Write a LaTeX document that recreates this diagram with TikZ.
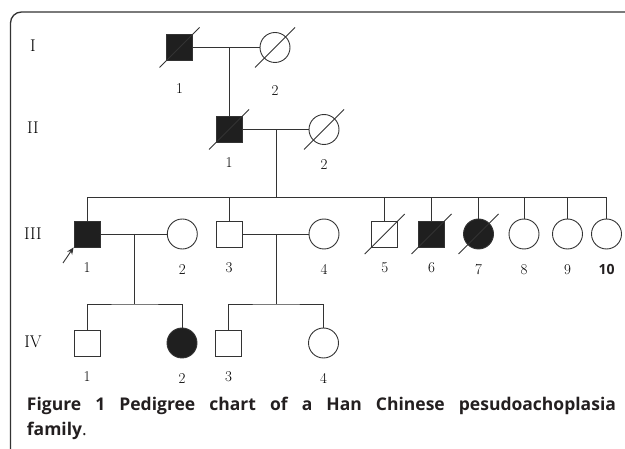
\documentclass[tikz,border=0pt]{standalone}
\usepackage{fontspec}
\newfontfamily\capfont{Open Sans}
\definecolor{ink}{HTML}{231F20}
\usetikzlibrary{positioning, calc, arrows.meta}

\begin{document}
\begin{tikzpicture}[x=1pt, y=1pt, on grid, line width=0.9pt, draw=black!80,
  male/.style={draw, rectangle, minimum size=26pt, inner sep=0pt},
  female/.style={draw, circle, minimum size=30pt, inner sep=0pt},
  ill/.style={fill=black!88},
  lbl/.style={label={[anchor=center, label distance=20pt]below:#1}},
  every label/.style={font=\fontsize{15}{15}\selectfont},
  gen/.style={font=\fontsize{17}{17}\selectfont}]
  \useasboundingbox (0,0) rectangle (625,-449);
  \draw[line width=1.3pt, rounded corners=11pt] (10.5,-449) -- (10.5,-12) -- (625,-12);

  \node[gen] (g1) at (33,-46) {I};
  \node[gen] (g2) at (33,-128) {II};
  \node[gen] (g3) at (33,-234) {III};
  \node[gen] (g4) at (33,-342) {IV};

  % generation I and II
  \node[male, ill, label={[anchor=center, label distance=28pt]below:1}] (i1) at (179.5,-47.5) {};
  \node[female, label={[anchor=center, label distance=28pt]below:2}] (i2) [right=95.5pt of i1] {};
  \node[male, ill, lbl=1] (ii1) [below right=82pt and 49.5pt of i1] {};
  \node[female, lbl=2] (ii2) [right=95pt of ii1] {};

  % generation III
  \node[male, ill, lbl=1] (iii1) [below left=104.5pt and 142pt of ii1] {};
  \node[female, lbl=2] (iii2) [right=95.3pt of iii1] {};
  \node[male, lbl=3] (iii3) [right=46.7pt of iii2] {};
  \node[female, lbl=4] (iii4) [right=95pt of iii3] {};
  \node[male, lbl=5] (iii5) [right=60.7pt of iii4] {};
  \node[male, ill, lbl=6] (iii6) [right=46.8pt of iii5] {};
  \node[female, ill, lbl=7] (iii7) [right=47pt of iii6] {};
  \node[female, lbl=8] (iii8) [right=45.5pt of iii7] {};
  \node[female, lbl=9] (iii9) [right=43.5pt of iii8] {};
  \node[female, label={[anchor=center, label distance=20pt,
    font=\capfont\bfseries\fontsize{14}{14}\selectfont, text=ink]below:10}] (iii10) [right=39pt of iii9] {};

  % generation IV
  \node[male, lbl=1] (iv1) [below=109pt of iii1] {};
  \node[female, ill, lbl=2] (iv2) [right=95pt of iv1] {};
  \node[male, lbl=3] (iv3) [right=46.5pt of iv2] {};
  \node[female, lbl=4] (iv4) [right=95pt of iv3] {};

  % couples and children
  \draw (i1) -- (i2);
  \draw (ii1) -- (ii1 |- i1);
  \draw (ii1) -- (ii2);
  \coordinate (m2) at ($(ii1)!.5!(ii2)$);
  \coordinate[below=68pt of m2] (s2);
  \draw (m2) -- (s2);
  \draw (iii1) |- (s2) -| (iii10);
  \foreach \c in {iii3,iii5,iii6,iii7,iii8,iii9}
    \draw (\c) -- (\c |- s2);

  \draw (iii1) -- (iii2);
  \coordinate (m3) at ($(iii1)!.5!(iii2)$);
  \coordinate[below=70pt of m3] (s3);
  \draw (m3) -- (s3);
  \draw (iv1) |- (s3) -| (iv2);

  \draw (iii3) -- (iii4);
  \coordinate (m4) at ($(iii3)!.5!(iii4)$);
  \coordinate[below=70pt of m4] (s4);
  \draw (m4) -- (s4);
  \draw (iv3) |- (s4) -| (iv4);

  % deceased
  \foreach \d in {i1,i2,ii1,ii2,iii5,iii6,iii7}
    \draw ([shift={(-20,-20)}]\d.center) -- ([shift={(20,20)}]\d.center);

  % proband
  \coordinate[below left=29pt and 24pt of iii1] (pb);
  \draw[-{Stealth[length=7pt, width=6pt]}] (pb) -- (iii1.south west);

  \node[anchor=north west, text width=589pt, align=justify, inner sep=0pt,
    font=\capfont\bfseries\fontsize{17.5}{25}\selectfont, text=ink] (cap) at (26.5,-397)
    {Figure 1 Pedigree chart of a Han Chinese pesudoachoplasia\linebreak family{\mdseries .}};
\end{tikzpicture}
\end{document}
